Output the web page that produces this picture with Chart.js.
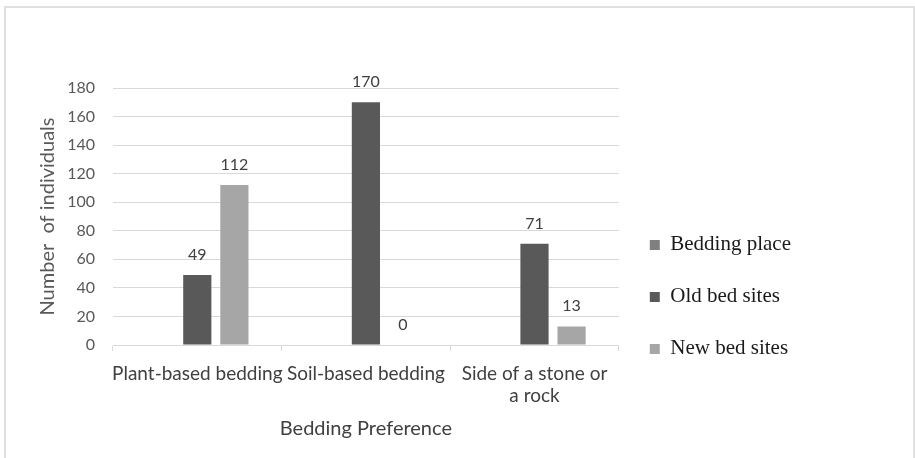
<!DOCTYPE html>
<html>
<head>
<meta charset="utf-8">
<script src="https://cdn.jsdelivr.net/npm/chart.js@4.4.0/dist/chart.umd.min.js"></script>
<style>
  html, body { margin: 0; padding: 0; background: #fff; }
  #frame { position: absolute; left: 4px; top: 6px; width: 907px; height: 470px; border: 2px solid #e0e0e0; }
  #box { position: absolute; left: 0; top: 0; width: 915px; height: 458px; }
</style>
</head>
<body>
<div id="frame"></div>
<div id="box"><canvas id="myChart"></canvas></div>
<script>
var categories = ['Plant-based bedding', 'Soil-based bedding', ['Side of a stone or', 'a rock']];
var beddingPlace = [null, null, null];
var oldBedSites = [49, 170, 71];
var newBedSites = [112, 0, 13];
var yMin = 0, yMax = 180, yStep = 20;

// value labels above the bars (no datalabels plugin offline)
var valueLabels = {
  id: 'valueLabels',
  afterDatasetsDraw: function(chart){
    var ctx = chart.ctx;
    ctx.save();
    ctx.font = '16px Lato';
    ctx.fillStyle = '#404040';
    ctx.textAlign = 'center';
    ctx.textBaseline = 'alphabetic';
    chart.data.datasets.forEach(function(ds, i){
      var meta = chart.getDatasetMeta(i);
      meta.data.forEach(function(bar, j){
        var v = ds.data[j];
        if (v === null || v === undefined) return;
        ctx.fillText(String(v), bar.x, bar.y - 15);
      });
    });
    ctx.restore();
  }
};

var ctx = document.getElementById('myChart');
var myChart = new Chart(ctx, {
  type: 'bar',
  data: {
    labels: categories,
    datasets: [
      { label: 'Bedding place', data: beddingPlace, backgroundColor: '#808080', borderWidth: 0 },
      { label: 'Old bed sites', data: oldBedSites, backgroundColor: '#595959', borderWidth: 0 },
      { label: 'New bed sites', data: newBedSites, backgroundColor: '#a6a6a6', borderWidth: 0 }
    ]
  },
  options: {
    responsive: true,
    maintainAspectRatio: false,
    animation: false,
    categoryPercentage: 0.66,
    barPercentage: 0.76,
    layout: { padding: { left: 20, top: 88, right: 114, bottom: 17 } },
    plugins: {
      tooltip: { enabled: false },
      legend: {
        position: 'right',
        align: 'start',
        title: { display: true, text: '', padding: { top: 101, bottom: 0 } },
        labels: {
          boxWidth: 10,
          boxHeight: 10,
          padding: 31,
          color: '#1a1a1a',
          font: { family: "'Liberation Serif', serif", size: 21 }
        }
      }
    },
    scales: {
      x: {
        afterFit: function(scale){ scale.height = 96; },
        grid: { drawOnChartArea: false, drawTicks: true, tickLength: 6, color: '#d9d9d9' },
        border: { color: '#d9d9d9' },
        ticks: {
          maxRotation: 0,
          autoSkip: false,
          padding: 11,
          color: '#404040',
          font: { family: 'Lato', size: 19 }
        },
        title: {
          display: true,
          text: 'Bedding Preference',
          color: '#404040',
          padding: { top: 7, bottom: 0 },
          font: { family: 'Lato', size: 20 }
        }
      },
      y: {
        min: yMin,
        max: yMax,
        afterFit: function(scale){ scale.width = 93; },
        grid: { color: '#d9d9d9', drawTicks: false },
        border: { display: false },
        ticks: {
          stepSize: yStep,
          padding: 18,
          color: '#595959',
          font: { family: 'Lato', size: 16 }
        },
        title: {
          display: true,
          text: 'Number  of individuals',
          color: '#595959',
          padding: { top: 16, bottom: 7 },
          font: { family: 'Lato', size: 20 }
        }
      }
    }
  },
  plugins: [valueLabels]
});
</script>
</body>
</html>
